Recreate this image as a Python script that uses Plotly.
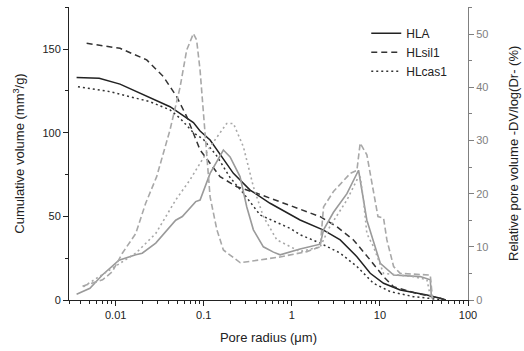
import plotly.graph_objects as go

# ---- cumulative volume (left axis, mm3/g) ----
hla_cum_r = [0.0036, 0.0065, 0.0112, 0.0206, 0.0245, 0.0414, 0.0763, 0.0908, 0.118, 0.217, 0.336, 0.566, 1.24, 2.29, 3.54, 5.48, 7.76, 11.0, 17.0, 34.2, 48.4, 56.0]
hla_cum_v = [133, 132.5, 129, 122.5, 121, 115.5, 106, 101, 95.6, 75.7, 65.7, 57.8, 47.8, 41.8, 35.9, 25.9, 16, 10, 6, 3, 1, 0]

sil_cum_r = [0.00468, 0.0112, 0.0225, 0.0245, 0.0348, 0.0493, 0.0641, 0.0763, 0.0908, 0.153, 0.237, 0.40, 1.24, 2.1, 3.25, 5.01, 7.76, 11.0, 14.3, 26.0, 48.4, 55.0]
sil_cum_v = [153.4, 150.4, 143.5, 141.5, 133.5, 121.5, 109.6, 99.6, 89.7, 73.7, 67.7, 63.8, 54.0, 49.8, 43.8, 35.9, 23.9, 13.9, 7.9, 4, 1, 0]

cas_cum_r = [0.00373, 0.0086, 0.0245, 0.0414, 0.0538, 0.0763, 0.099, 0.141, 0.20, 0.282, 0.436, 0.957, 1.24, 2.1, 3.54, 5.48, 8.46, 13.1, 24.0, 48.0]
cas_cum_v = [127.5, 124.5, 118.5, 113.6, 108.6, 100, 96, 86, 73, 63.8, 50.8, 42.8, 39, 34, 28, 20, 10, 5, 2, 0.3]

# ---- relative pore volume (right axis, %) ----
hla_rel_r = [0.0036, 0.0051, 0.00705, 0.0109, 0.0169, 0.020, 0.0285, 0.048, 0.0571, 0.081, 0.0908, 0.118, 0.167, 0.199, 0.258, 0.308, 0.366, 0.475, 0.618, 0.736, 1.24, 2.1, 2.29, 2.97, 4.22, 5.72, 7.11, 10.1, 14.3, 28.7, 37.3, 38.5]
hla_rel_v = [1.1, 2.2, 4.7, 7.5, 8.5, 8.8, 10.7, 15, 15.7, 18.5, 18.8, 23.8, 28.2, 26.9, 23.2, 17.5, 13.2, 10, 9, 8.5, 9.6, 10.5, 13.2, 16.5, 20, 24.4, 15, 6.9, 4.7, 4.4, 3.8, 0.3]

sil_rel_r = [0.0042, 0.0071, 0.00914, 0.0119, 0.0169, 0.0219, 0.0292, 0.0414, 0.0538, 0.064, 0.0763, 0.083, 0.0908, 0.1035, 0.118, 0.141, 0.167, 0.26, 0.436, 0.736, 1.48, 2.1, 2.29, 2.97, 4.6, 5.48, 5.97, 7.11, 9.5, 11.0, 12.0, 14.3, 17.0, 37.3, 39.5]
sil_rel_v = [2.6, 3.8, 5.3, 8.8, 12.5, 18.2, 23.2, 32, 40, 47, 50.1, 48.9, 43.2, 32, 19.4, 13.2, 9.4, 7, 7.5, 8.1, 9.1, 10, 17.5, 20.4, 23.8, 24.4, 29.5, 27.3, 15.7, 15.4, 11.3, 6.3, 5, 4.7, 0.3]

cas_rel_r = [0.0043, 0.01, 0.0169, 0.0285, 0.048, 0.0698, 0.118, 0.182, 0.217, 0.282, 0.366, 0.475, 0.676, 1.24, 2.1, 2.7, 4.22, 5.48, 5.97, 6.51, 7.11, 8.46, 11.0, 24.1, 34.2, 37.3]
cas_rel_v = [2.5, 6.3, 8.8, 12.5, 18.8, 22.6, 28.8, 33.2, 33.2, 28.8, 21.3, 15.7, 11.3, 9.1, 10, 13.8, 18.8, 22.6, 23.2, 18.8, 12.5, 10, 5, 4.4, 3.8, 0.8]

x_ticks = [0.01, 0.1, 1, 10, 100]
x_ticktext = ["0.01", "0.1", "1", "10", "100"]

FONT = "Liberation Sans, Arial, sans-serif"
GRAY = "#9a9a9a"
LGRAY = "#a8a8a8"
AXGRAY = "#808080"

fig = go.Figure()

# relative pore volume curves (gray, right axis)
fig.add_trace(go.Scatter(x=hla_rel_r, y=hla_rel_v, yaxis="y2", mode="lines",
                         line=dict(color=GRAY, width=1.6), showlegend=False))
fig.add_trace(go.Scatter(x=sil_rel_r, y=sil_rel_v, yaxis="y2", mode="lines",
                         line=dict(color=LGRAY, width=1.6, dash="6px,3px"), showlegend=False))
fig.add_trace(go.Scatter(x=cas_rel_r, y=cas_rel_v, yaxis="y2", mode="lines",
                         line=dict(color=LGRAY, width=1.6, dash="2px,3px"), showlegend=False))

# cumulative curves (black, left axis)
fig.add_trace(go.Scatter(x=hla_cum_r, y=hla_cum_v, mode="lines", name="HLA",
                         line=dict(color="#222222", width=1.5)))
fig.add_trace(go.Scatter(x=sil_cum_r, y=sil_cum_v, mode="lines", name="HLsil1",
                         line=dict(color="#333333", width=1.5, dash="6px,4px")))
fig.add_trace(go.Scatter(x=cas_cum_r, y=cas_cum_v, mode="lines", name="HLcas1",
                         line=dict(color="#333333", width=1.5, dash="2px,3px")))

minor_x = [m * 10 ** e for e in range(-3, 2) for m in range(2, 10)]

fig.update_layout(
    width=524, height=351,
    margin=dict(l=69, r=56, t=7, b=51, autoexpand=False),
    paper_bgcolor="white", plot_bgcolor="white",
    font=dict(family=FONT, size=11, color="#222"),
    xaxis=dict(
        type="log", range=[-2.53, 2.0],
        tickvals=x_ticks, ticktext=x_ticktext,
        ticks="outside", ticklen=5, tickcolor="#222", tickwidth=1,
        showline=True, linecolor="#222", linewidth=1,
        showgrid=False, zeroline=False,
        tickfont=dict(size=11, color="#222"),
        minor=dict(tickvals=minor_x, ticks="outside", ticklen=3, tickcolor="#222", showgrid=False),
        title=dict(text="Pore radius (μm)", font=dict(size=13, color="#222"), standoff=12),
    ),
    yaxis=dict(
        range=[0, 175.1], tickvals=[0, 50, 100, 150],
        ticks="outside", ticklen=5, tickcolor="#222",
        showline=True, linecolor="#222", linewidth=1,
        showgrid=False, zeroline=False,
        tickfont=dict(size=11, color="#222"),
        minor=dict(tickvals=[25, 75, 125, 175], ticks="outside", ticklen=3, tickcolor="#222", showgrid=False),
        title=dict(text="Cumulative volume (mm<sup>3</sup>/g)", font=dict(size=13, color="#222"), standoff=14),
    ),
    yaxis2=dict(
        overlaying="y", side="right", anchor="x",
        range=[0, 55.1], tickvals=[0, 10, 20, 30, 40, 50],
        ticks="outside", ticklen=5, tickcolor=AXGRAY,
        showline=True, linecolor=AXGRAY, linewidth=1,
        showgrid=False, zeroline=False,
        tickfont=dict(size=11, color=AXGRAY),
        minor=dict(tickvals=[5, 15, 25, 35, 45, 55], ticks="outside", ticklen=3, tickcolor=AXGRAY, showgrid=False),
    ),
    annotations=[dict(
        text="Relative pore volume -DV/log(Dr- (%)", textangle=-90,
        xref="paper", yref="paper", x=1.114, y=0.5, xanchor="center", yanchor="middle",
        showarrow=False, font=dict(size=13, color="#222"),
    )],
    legend=dict(
        x=0.745, y=0.96, xanchor="left", yanchor="top",
        bgcolor="rgba(0,0,0,0)", font=dict(size=12, color="#222"),
        tracegroupgap=0, itemwidth=30,
    ),
)

fig.write_html("out.html")
